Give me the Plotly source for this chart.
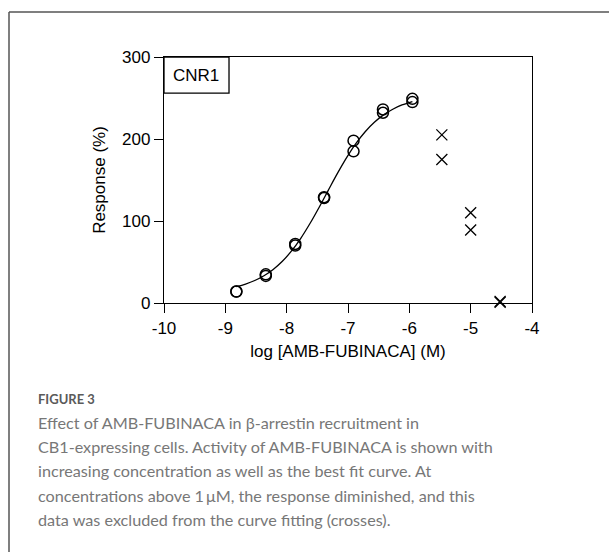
import plotly.graph_objects as go

# ---- data ----
log_conc_fit = [-8.82, -8.34, -7.86, -7.39, -6.91, -6.43, -5.95]
resp_fit_rep1 = [14, 35, 72, 129, 198, 236, 249]
resp_fit_rep2 = [14, 33, 70, 128, 185, 232, 245]

log_conc_excl = [-5.47, -5.00, -4.52]
resp_excl_rep1 = [205, 110, 2]
resp_excl_rep2 = [175, 89, 1]

curve_x = [-8.82, -8.67, -8.52, -8.37, -8.22, -8.07, -7.92, -7.77, -7.62, -7.47,
           -7.32, -7.17, -7.02, -6.87, -6.72, -6.57, -6.42, -6.27, -6.12, -5.95]
curve_y = [20.0, 23.1, 27.4, 33.2, 40.9, 50.9, 63.5, 78.9, 96.9, 116.8,
           137.7, 158.3, 177.5, 194.6, 208.9, 220.4, 229.4, 236.3, 241.5, 245.7]

x_ticks = [-10, -9, -8, -7, -6, -5, -4]
y_ticks = [0, 100, 200, 300]

caption_title = "FIGURE 3"
caption_lines = [
    "Effect of AMB-FUBINACA in β-arrestin recruitment in",
    "CB1-expressing cells. Activity of AMB-FUBINACA is shown with",
    "increasing concentration as well as the best fit curve. At",
    "concentrations above 1\u2009μM, the response diminished, and this",
    "data was excluded from the curve fitting (crosses).",
]

# ---- layout geometry (pixels) ----
W, H = 609, 552
L, R, T, B = 164, 532, 57, 303  # plot area in pixels


def px(xp):
    return (xp - L) / (R - L)


def py(yp):
    return (B - yp) / (B - T)


AX_FONT = dict(family="Arial, Liberation Sans, sans-serif", size=17, color="black")
CAP_FONT = "Lato, Noto Sans, sans-serif"

fig = go.Figure()

fig.add_trace(go.Scatter(x=curve_x, y=curve_y, mode="lines",
                         line=dict(color="black", width=1.3, shape="spline"),
                         hoverinfo="skip", showlegend=False))

for ys in (resp_fit_rep1, resp_fit_rep2):
    fig.add_trace(go.Scatter(x=log_conc_fit, y=ys, mode="markers",
                             marker=dict(symbol="circle-open", size=11, color="black",
                                         line=dict(width=1.5, color="black")),
                             cliponaxis=False, showlegend=False))

for ys in (resp_excl_rep1, resp_excl_rep2):
    fig.add_trace(go.Scatter(x=log_conc_excl, y=ys, mode="markers",
                             marker=dict(symbol="x-thin-open", size=11, color="black",
                                         line=dict(width=1.3, color="black")),
                             cliponaxis=False, showlegend=False))

axis_common = dict(showline=True, linecolor="black", linewidth=1.3, mirror=True,
                   ticks="outside", ticklen=9, tickwidth=1.3, tickcolor="black",
                   showgrid=False, zeroline=False, tickfont=AX_FONT)

fig.update_xaxes(range=[-10, -4], tickvals=x_ticks, ticktext=[str(v) for v in x_ticks],
                 title=dict(text="log [AMB-FUBINACA] (M)", font=AX_FONT, standoff=8),
                 **axis_common)
fig.update_yaxes(range=[0, 300], tickvals=y_ticks,
                 title=dict(text="Response (%)", font=AX_FONT, standoff=12),
                 **axis_common)

shapes = [
    # CNR1 label box
    dict(type="rect", xref="x", yref="y", x0=-10, x1=-8.94, y0=256, y1=300,
         line=dict(color="black", width=1.3), fillcolor="white", layer="above"),
    # card border (top and left edges)
    dict(type="line", xref="paper", yref="paper", x0=px(9), x1=px(609), y0=py(12), y1=py(12),
         line=dict(color="#555555", width=1.5)),
    dict(type="line", xref="paper", yref="paper", x0=px(9), x1=px(9), y0=py(12), y1=py(552),
         line=dict(color="#555555", width=1.5)),
]

annotations = [
    dict(x=-9.486, y=278, xref="x", yref="y", text="CNR1", showarrow=False,
         font=AX_FONT, xanchor="center", yanchor="middle"),
    dict(x=px(36), y=py(399), xref="paper", yref="paper", text="<b>" + caption_title + "</b>",
         showarrow=False, xanchor="left", yanchor="middle",
         font=dict(family=CAP_FONT, size=13, color="#5a5a5a")),
]
line_centers = [422.5, 446.5, 470.5, 495, 519]
for txt, yc in zip(caption_lines, line_centers):
    annotations.append(dict(x=px(36), y=py(yc), xref="paper", yref="paper", text=txt,
                            showarrow=False, xanchor="left", yanchor="middle",
                            font=dict(family=CAP_FONT, size=16.2, color="#777777")))

fig.update_layout(width=W, height=H, margin=dict(l=L, r=W - R, t=T, b=H - B),
                  paper_bgcolor="white", plot_bgcolor="white",
                  shapes=shapes, annotations=annotations, showlegend=False)

fig.write_html("out.html")
